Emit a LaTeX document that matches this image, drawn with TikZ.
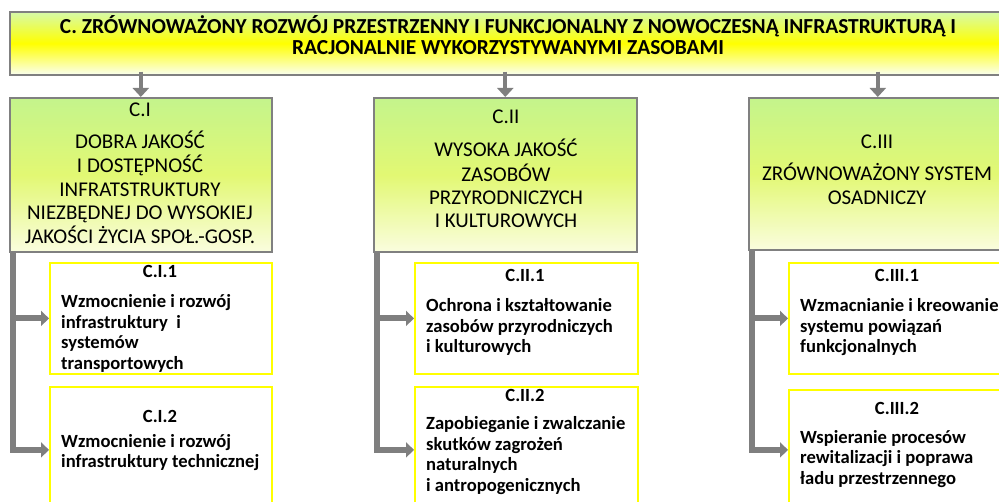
\documentclass[tikz,border=0pt]{standalone}
\usepackage{fontspec}
\setmainfont{Carlito}
\usetikzlibrary{arrows.meta}
\definecolor{bordergray}{RGB}{128,128,128}
\definecolor{conngray}{RGB}{127,127,127}
\definecolor{topgreen}{RGB}{196,244,140}
\definecolor{midgreen}{RGB}{226,248,115}
\definecolor{botgreen}{RGB}{250,253,222}
\definecolor{hdrtop}{RGB}{214,250,170}
\definecolor{hdrbot}{RGB}{250,255,240}
\definecolor{subyellow}{RGB}{255,255,0}
\newcommand{\cbox}[1]{\begin{tabular}[t]{@{}c@{}}#1\end{tabular}}
\newcommand{\lbox}[1]{\begin{tabular}[t]{@{}l@{}}#1\end{tabular}}
\tikzset{
  hdrbox/.style={draw=bordergray, line width=1.6pt, top color=hdrtop, bottom color=hdrbot, middle color=yellow, anchor=north west, inner sep=0pt},
  mainbox/.style={draw=bordergray, line width=1.6pt, top color=topgreen, bottom color=botgreen, middle color=midgreen, anchor=north west, inner sep=0pt},
  subbox/.style={draw=subyellow, line width=1.8pt, fill=white, anchor=north west, inner sep=0pt},
  hdrtext/.style={font=\fontsize{21.4}{21.3}\selectfont\bfseries, inner sep=0pt, anchor=base},
  maintext/.style={font=\fontsize{21}{23.2}\selectfont, inner sep=0pt, anchor=base},
  subtitle/.style={font=\fontsize{18.6}{20.5}\selectfont\bfseries, inner sep=0pt, anchor=base},
  subtext/.style={font=\fontsize{18.6}{20.5}\selectfont\bfseries, inner sep=0pt, anchor=base west},
  downarrow/.style={draw=conngray, line width=4pt, -{Triangle[width=16pt,length=9pt]}},
  elbow/.style={draw=conngray, line width=6pt, -{Triangle[width=15pt,length=8pt]}},
}
\begin{document}
\begin{tikzpicture}[x=1pt, y=-1pt]
\useasboundingbox (0,0) rectangle (999,502);
\clip (0,0) rectangle (999,502);
% header
\node[hdrbox, minimum width=997pt, minimum height=63pt] (hdr) at (9,11) {};
\node[hdrtext] (hdrt) at (508,33.5) {\cbox{C. ZRÓWNOWAŻONY ROZWÓJ PRZESTRZENNY I FUNKCJONALNY Z NOWOCZESNĄ INFRASTRUKTURĄ I\\RACJONALNIE WYKORZYSTYWANYMI ZASOBAMI}};
% main boxes
\node[mainbox, minimum width=262pt, minimum height=154pt] (ci) at (9,97) {};
\node[mainbox, minimum width=263pt, minimum height=154pt] (cii) at (373,97) {};
\node[mainbox, minimum width=258pt, minimum height=152pt] (ciii) at (748,97) {};
\node[maintext] (cit) at (140,116.5) {C.I};
\node[maintext] (citx) at (140,148.5) {\cbox{DOBRA JAKOŚĆ\\I DOSTĘPNOŚĆ\\INFRATSTRUKTURY\\NIEZBĘDNEJ DO WYSOKIEJ\\JAKOŚCI ŻYCIA SPOŁ.-GOSP.}};
\node[maintext] (ciit) at (506,124) {C.II};
\node[maintext] (ciitx) at (506,157) {\cbox{WYSOKA JAKOŚĆ\\ZASOBÓW\\PRZYRODNICZYCH\\I KULTUROWYCH}};
\node[maintext] (ciiit) at (877,148.5) {C.III};
\node[maintext] (ciiitx) at (877,181) {\cbox{ZRÓWNOWAŻONY SYSTEM\\OSADNICZY}};
% top arrows
\draw[downarrow] ([yshift=4pt]hdr.south -| ci.north) -- (ci.north);
\draw[downarrow] ([yshift=4pt]hdr.south -| cii.north) -- (cii.north);
\draw[downarrow] ([yshift=4pt]hdr.south -| ciii.north) -- (ciii.north);
% sub boxes
\node[subbox, minimum width=222pt, minimum height=111pt] (ci1) at (49,262) {};
\node[subbox, minimum width=222pt, minimum height=126pt] (ci2) at (49,386) {};
\node[subbox, minimum width=223pt, minimum height=111pt] (cii1) at (414,262) {};
\node[subbox, minimum width=223pt, minimum height=126pt] (cii2) at (414,386) {};
\node[subbox, minimum width=218pt, minimum height=111pt] (ciii1) at (788,262) {};
\node[subbox, minimum width=218pt, minimum height=120pt] (ciii2) at (788,389) {};
% sub texts
\node[subtitle] at (160,278) {C.I.1};
\node[subtext] at (61,308) {\lbox{Wzmocnienie i rozwój\\infrastruktury\ \ i\\systemów\\transportowych}};
\node[subtitle] at (160,422.5) {C.I.2};
\node[subtext] at (61,447.5) {\lbox{Wzmocnienie i rozwój\\infrastruktury technicznej}};
\node[subtitle] at (525,282) {C.II.1};
\node[subtext] at (426,312) {\lbox{Ochrona i kształtowanie\\zasobów przyrodniczych\\i kulturowych}};
\node[subtitle] at (525,401.5) {C.II.2};
\node[subtext] at (426,430) {\lbox{Zapobieganie i zwalczanie\\skutków zagrożeń\\naturalnych\\i antropogenicznych}};
\node[subtitle] at (897,282) {C.III.1};
\node[subtext] at (800,312) {\lbox{Wzmacnianie i kreowanie\\systemu powiązań\\funkcjonalnych}};
\node[subtitle] at (897,415) {C.III.2};
\node[subtext] at (800,443.5) {\lbox{Wspieranie procesów\\rewitalizacji i poprawa\\ładu przestrzennego}};
% elbow connectors
\draw[elbow] ([xshift=4pt]ci.south west) |- (ci1.west);
\draw[elbow] ([xshift=4pt]ci.south west) |- (ci2.west);
\draw[elbow] ([xshift=4pt]cii.south west) |- (cii1.west);
\draw[elbow] ([xshift=4pt]cii.south west) |- (cii2.west);
\draw[elbow] ([xshift=4pt]ciii.south west) |- (ciii1.west);
\draw[elbow] ([xshift=4pt]ciii.south west) |- (ciii2.west);
\end{tikzpicture}
\end{document}
